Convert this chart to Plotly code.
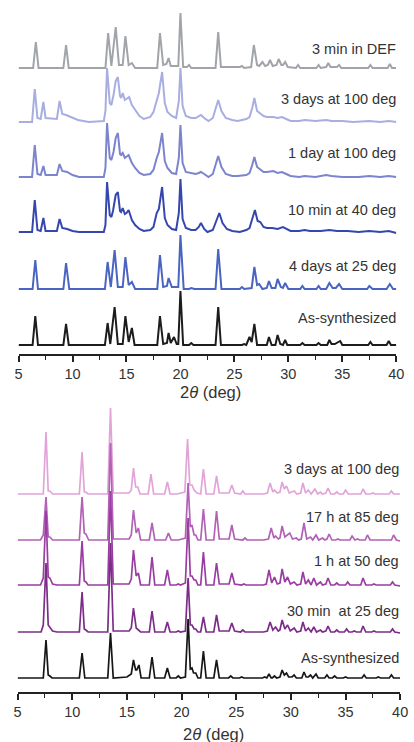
import plotly.graph_objects as go

# ---------------- DATA (2theta, intensity above own baseline) ----------------
top_names = ["As-synthesized", "4 days at 25 deg", "10 min at 40 deg",
             "1 day at 100 deg", "3 days at 100 deg", "3 min in DEF"]

top_as = [(5,1),(6.3,1),(6.55,30),(6.8,1),(9.15,1),(9.4,22),(9.65,1),(13.0,1),(13.25,23),(13.5,2),(13.9,39),(14.2,2),(14.65,2),(14.9,30),(15.2,4),(15.5,18),(15.75,1),(17.85,1),(18.1,30),(18.4,2),(18.75,3),(18.9,13),(19.1,3),(19.4,9),(19.65,2),(19.8,2),(20.0,55),(20.25,1),(20.8,1),(21.0,3),(21.2,1),(23.25,1),(23.5,39),(23.75,1),(25.7,1),(25.9,2),(26.1,1),(26.4,9),(26.6,4),(26.85,22),(27.1,1),(28.0,1),(28.2,9),(28.45,1),(28.8,1),(29.0,11),(29.25,2),(29.5,1),(29.7,6),(29.9,1),(31.1,1),(31.3,3),(31.5,1),(32.6,1),(32.8,3),(33.0,1),(33.6,1),(33.8,6),(34.0,2),(34.3,2),(34.8,5),(35.0,1),(37.4,1),(37.6,4),(37.8,1),(39.1,1),(39.3,5),(39.5,1),(40,1)]

top_4d = [(5,1),(6.3,1),(6.55,30),(6.8,1),(9.15,1),(9.4,27),(9.7,1),(13.0,1),(13.25,28),(13.55,3),(13.9,40),(14.2,3),(14.65,3),(14.9,33),(15.2,5),(15.5,8),(15.8,1),(17.85,1),(18.1,35),(18.4,3),(18.75,4),(18.9,12),(19.2,3),(19.5,3),(19.8,3),(20.0,55),(20.3,1),(20.8,1),(21.0,2),(21.3,1),(23.25,1),(23.5,41),(23.8,1),(25.5,1),(25.7,3),(25.9,1),(26.6,2),(26.85,23),(27.1,5),(27.3,6),(27.6,1),(28.0,2),(28.2,9),(28.45,2),(28.8,2),(29.0,11),(29.3,3),(29.5,2),(29.7,7),(30.0,1),(31.1,1),(31.3,4),(31.5,1),(32.6,1),(32.8,4),(33.0,1),(33.5,1),(33.8,7),(34.1,2),(34.4,2),(34.7,6),(35.0,1),(37.3,1),(37.5,4),(37.8,1),(39.1,1),(39.4,6),(39.7,1),(40,1)]

top_10m = [(5,1),(6.25,1),(6.5,33),(6.75,3),(7.05,2),(7.3,15),(7.5,2),(8.55,2),(8.8,14),(9.05,5),(9.5,4),(10.0,2),(10.6,1),(12.9,1),(13.05,8),(13.2,51),(13.45,18),(13.6,16),(13.75,22),(14.0,38),(14.2,41),(14.4,22),(14.5,21),(14.65,25),(14.85,19),(15.0,20),(15.2,23),(15.5,13),(15.8,8),(16.2,4),(16.6,2),(17.2,3),(17.5,6),(17.8,20),(18.0,24),(18.3,46),(18.55,15),(18.8,8),(19.2,4),(19.6,3),(19.85,20),(20.0,54),(20.2,14),(20.5,5),(21.0,3),(21.4,3),(21.7,6),(21.9,10),(22.2,4),(22.5,1),(23.0,3),(23.3,12),(23.6,20),(23.9,10),(24.3,4),(24.8,2),(25.5,1),(26.1,3),(26.4,5),(26.65,14),(26.9,23),(27.15,12),(27.4,11),(27.7,6),(28.0,5),(28.5,5),(29.0,4),(29.5,6),(29.9,4),(30.2,2),(31.0,2),(31.5,3),(32.0,2),(33.0,2),(33.8,3),(34.5,2),(35.5,2),(36.5,1),(37.5,2),(38.5,1),(39.3,2),(40,0)]

top_1d = [(5,1),(6.25,1),(6.5,33),(6.75,4),(7.05,3),(7.3,12),(7.5,3),(8.55,3),(8.8,14),(9.05,7),(9.5,6),(10.0,3),(10.6,1),(12.9,1),(13.05,10),(13.2,55),(13.45,20),(13.6,18),(13.8,26),(14.0,40),(14.2,45),(14.4,24),(14.5,23),(14.65,25),(14.85,20),(15.0,21),(15.2,23),(15.5,15),(15.8,10),(16.2,5),(16.6,3),(17.2,4),(17.5,8),(17.8,20),(18.0,26),(18.3,45),(18.55,17),(18.8,10),(19.2,5),(19.6,4),(19.85,20),(20.0,53),(20.2,15),(20.5,6),(21.0,5),(21.4,4),(21.7,5),(21.9,6),(22.2,4),(22.6,1),(23.0,4),(23.25,12),(23.5,22),(23.8,11),(24.2,4),(24.8,2),(25.3,2),(26.1,3),(26.4,5),(26.65,13),(26.85,21),(27.1,11),(27.3,9),(27.7,6),(28.0,6),(28.6,7),(29.0,5),(29.4,6),(29.8,4),(30.2,2),(31.0,1),(31.5,2),(32.5,1),(33.5,3),(34.0,2),(35.0,1),(36.5,1),(37.5,2),(38.5,1),(39.3,2),(40,1)]

top_3d = [(5,1),(6.25,1),(6.5,34),(6.75,5),(7.05,4),(7.3,21),(7.5,5),(8.55,4),(8.8,22),(9.05,9),(9.4,8),(10.0,5),(10.5,3),(11.5,1),(12.9,2),(13.05,12),(13.2,55),(13.45,20),(13.6,18),(13.8,28),(14.0,42),(14.2,46),(14.4,27),(14.5,25),(14.65,30),(14.85,23),(15.0,24),(15.25,26),(15.5,18),(15.8,13),(16.2,7),(16.6,4),(17.2,6),(17.5,11),(17.8,23),(18.0,30),(18.3,51),(18.55,20),(18.8,11),(19.2,7),(19.6,5),(19.85,22),(20.0,55),(20.2,17),(20.5,7),(21.0,5),(21.4,5),(21.7,7),(21.9,8),(22.2,5),(22.6,2),(23.0,5),(23.25,14),(23.5,23),(23.8,12),(24.2,5),(24.8,3),(25.3,2),(26.1,4),(26.4,6),(26.65,15),(26.85,25),(27.1,12),(27.3,10),(27.7,7),(28.0,6),(28.6,6),(29.0,5),(29.4,6),(29.8,4),(30.2,2),(31.0,2),(31.5,3),(32.5,2),(33.5,3),(34.0,2),(35.0,2),(36.0,1),(37.5,2),(38.5,1),(39.3,2),(40,1)]

top_def = [(5,0),(6.35,0),(6.6,26),(6.85,0),(9.15,0),(9.4,23),(9.65,0),(13.05,0),(13.3,35),(13.6,2),(14.0,41),(14.3,3),(14.65,3),(14.9,32),(15.2,3),(15.5,5),(15.8,0),(17.85,0),(18.1,35),(18.4,3),(18.7,4),(18.9,10),(19.1,2),(19.8,2),(20.0,55),(20.25,1),(20.6,1),(20.8,3),(21.0,0),(23.25,0),(23.5,36),(23.75,1),(25.5,1),(25.7,2),(25.9,0),(26.55,1),(26.8,23),(27.1,3),(27.3,2),(27.6,6),(27.85,2),(28.1,3),(28.3,8),(28.55,2),(28.9,3),(29.1,9),(29.35,3),(29.5,3),(29.7,6),(29.95,1),(30.7,0),(30.9,3),(31.1,0),(32.6,0),(32.8,3),(33.0,0),(33.5,1),(33.7,5),(33.9,1),(34.5,1),(34.7,3),(34.9,0),(37.4,0),(37.6,3),(37.8,0),(39.2,0),(39.4,4),(39.6,0),(40,0)]

bot_names = ["As-synthesized", "30 min\u00a0 at 25 deg", "1 h at 50 deg",
             "17 h at 85 deg", "3 days at 100 deg"]

bot_as = [(5,1),(7.35,1),(7.6,39),(7.8,4),(7.95,3),(8.15,1),(10.65,1),(10.9,26),(11.15,1),(13.25,1),(13.5,46),(13.75,1),(15.0,2),(15.2,4),(15.4,5),(15.6,19),(15.8,9),(15.9,9),(16.1,14),(16.3,1),(17.05,1),(17.3,22),(17.55,1),(18.45,1),(18.7,11),(18.95,1),(19.5,1),(19.7,3),(19.9,1),(20.35,2),(20.6,60),(20.8,10),(20.95,11),(21.1,6),(21.3,6),(21.5,1),(21.75,1),(22.0,28),(22.25,1),(22.95,1),(23.2,19),(23.45,1),(24.3,1),(24.5,3),(24.7,1),(25.3,1),(25.5,2),(25.7,1),(27.4,1),(27.6,2),(27.8,1),(28.0,5),(28.2,1),(28.3,1),(28.5,3),(28.7,1),(29.0,2),(29.2,9),(29.4,4),(29.6,6),(29.8,2),(30.1,2),(30.3,4),(30.5,1),(31.0,1),(31.2,7),(31.4,2),(31.6,2),(31.8,4),(32.0,1),(32.3,5),(32.5,1),(33.1,1),(33.3,4),(33.5,1),(33.8,1),(34.0,3),(34.2,1),(34.8,1),(35.0,2),(35.2,1),(36.5,1),(36.7,4),(36.9,1),(37.8,1),(38.0,2),(38.2,1),(39.0,1),(39.2,4),(39.4,1),(40,1)]

bot_30m = [(5,1),(7.15,1),(7.35,8),(7.6,70),(7.8,8),(7.95,6),(8.2,2),(8.6,1),(10.65,1),(10.9,41),(11.1,4),(11.25,3),(11.45,1),(13.25,1),(13.5,90),(13.75,2),(15.2,2),(15.4,5),(15.6,25),(15.85,5),(16.05,3),(16.25,1),(17.05,1),(17.3,22),(17.55,1),(18.45,1),(18.7,11),(18.95,1),(19.5,1),(19.7,2),(19.9,1),(20.35,2),(20.6,55),(20.8,8),(20.95,8),(21.15,4),(21.3,4),(21.5,1),(21.75,1),(22.0,16),(22.25,1),(22.95,1),(23.2,18),(23.45,2),(24.35,2),(24.6,10),(24.85,2),(25.4,1),(25.6,3),(25.8,1),(27.5,1),(27.85,2),(28.1,11),(28.35,3),(28.6,6),(28.85,2),(29.0,3),(29.2,13),(29.45,4),(29.7,8),(29.95,2),(30.3,5),(30.55,1),(30.9,2),(31.1,11),(31.35,2),(31.6,5),(31.85,1),(32.1,6),(32.35,1),(32.7,3),(32.9,1),(33.2,2),(33.4,7),(33.65,1),(34.0,1),(34.2,3),(34.4,1),(34.9,1),(35.1,4),(35.3,1),(35.6,1),(35.8,2),(36.0,1),(36.4,1),(36.6,7),(36.85,1),(37.4,1),(37.6,2),(37.8,1),(38.3,1),(38.5,1),(39.1,1),(39.3,4),(39.5,1),(40,0)]

bot_1h = [(5,1),(7.1,1),(7.35,8),(7.6,75),(7.8,9),(7.95,8),(8.2,2),(8.6,1),(10.65,1),(10.9,45),(11.1,5),(11.25,4),(11.45,1),(13.25,1),(13.5,95),(13.75,2),(15.2,2),(15.4,7),(15.6,36),(15.85,10),(16.05,13),(16.25,1),(17.05,1),(17.3,29),(17.55,1),(18.45,1),(18.7,16),(18.95,1),(19.5,1),(19.7,2),(19.9,1),(20.35,3),(20.6,68),(20.8,10),(20.95,10),(21.15,6),(21.3,6),(21.5,1),(21.75,1),(22.0,34),(22.25,1),(22.95,1),(23.2,23),(23.45,2),(24.35,2),(24.6,13),(24.85,2),(25.5,1),(25.7,2),(25.9,1),(27.5,1),(27.75,2),(28.0,16),(28.25,3),(28.5,9),(28.75,2),(29.0,3),(29.2,17),(29.45,4),(29.7,9),(29.95,2),(30.3,4),(30.55,1),(30.9,2),(31.1,14),(31.35,2),(31.6,6),(31.85,1),(32.1,8),(32.35,1),(32.7,4),(32.9,1),(33.2,2),(33.4,8),(33.65,1),(34.0,1),(34.2,3),(34.4,1),(35.0,1),(35.2,4),(35.4,1),(36.4,1),(36.6,8),(36.85,1),(37.4,1),(37.6,2),(37.8,1),(39.1,1),(39.3,4),(39.5,1),(40,0)]

bot_17h = [(5,1),(7.1,1),(7.35,6),(7.6,44),(7.8,4),(7.95,4),(8.2,1),(10.65,1),(10.9,44),(11.1,8),(11.25,7),(11.5,1),(13.25,1),(13.5,98),(13.75,2),(15.2,2),(15.4,6),(15.6,31),(15.85,8),(16.05,13),(16.25,1),(17.05,1),(17.3,18),(17.55,1),(18.55,1),(18.8,8),(19.05,1),(19.5,1),(19.7,1),(20.35,3),(20.6,58),(20.8,14),(20.95,16),(21.15,6),(21.3,6),(21.5,1),(21.75,1),(22.0,32),(22.25,1),(22.95,1),(23.2,30),(23.45,2),(24.35,2),(24.6,16),(24.85,2),(25.6,1),(25.8,3),(26.0,1),(27.5,1),(27.95,2),(28.2,13),(28.45,3),(28.6,5),(28.85,2),(29.0,3),(29.2,15),(29.45,4),(29.9,8),(30.15,2),(30.5,3),(30.7,1),(30.95,2),(31.2,18),(31.45,2),(31.8,4),(32.0,1),(32.3,6),(32.55,1),(32.9,3),(33.1,1),(33.3,2),(33.5,7),(33.75,1),(34.1,1),(34.3,2),(34.5,1),(35.4,1),(35.6,5),(35.85,1),(36.1,2),(36.3,1),(36.8,1),(37.0,6),(37.25,1),(38.0,1),(38.2,1),(39.2,1),(39.4,6),(39.65,1),(40,0)]

bot_3d = [(5,1),(7.35,1),(7.6,63),(7.8,4),(7.95,4),(8.2,1),(10.65,1),(10.9,43),(11.1,3),(11.25,3),(11.45,1),(13.25,1),(13.5,87),(13.75,2),(15.2,2),(15.4,5),(15.6,27),(15.8,8),(16.0,8),(16.2,1),(16.95,1),(17.2,21),(17.45,1),(18.45,1),(18.7,13),(18.95,1),(19.6,1),(20.3,3),(20.55,56),(20.75,10),(20.95,10),(21.15,5),(21.4,2),(21.75,1),(22.0,26),(22.25,1),(22.95,1),(23.2,19),(23.45,2),(24.35,2),(24.6,10),(24.85,2),(25.4,1),(25.6,4),(25.8,1),(27.5,1),(27.85,2),(28.1,12),(28.35,3),(28.5,5),(28.75,2),(29.0,3),(29.2,13),(29.4,6),(29.6,9),(29.85,2),(30.3,4),(30.55,1),(30.9,2),(31.1,12),(31.35,2),(31.6,5),(31.85,1),(32.2,6),(32.45,1),(32.7,3),(32.9,1),(33.2,2),(33.4,7),(33.65,1),(34.0,1),(34.2,3),(34.4,1),(34.8,1),(35.0,5),(35.25,1),(36.4,1),(36.6,6),(36.85,1),(37.3,1),(37.5,2),(37.7,1),(39.0,1),(39.2,4),(39.4,1),(40,1)]

tick_vals = [5, 10, 15, 20, 25, 30, 35, 40]
minor_tick_vals = [7.5, 12.5, 17.5, 22.5, 27.5, 32.5, 37.5]

# ---------------- STYLE / LAYOUT ----------------
top_series = [top_as, top_4d, top_10m, top_1d, top_3d, top_def]
top_offsets = [8, 64, 121, 176, 231, 286]
top_colors = ["#1c1c1c", "#4a64c2", "#3547ae", "#7b84cc", "#a8aee0", "#a1a4a9"]
top_label_y = [36, 88, 144, 201, 255, 305]

bot_series = [bot_as, bot_30m, bot_1h, bot_17h, bot_3d]
bot_offsets = [13, 59, 106, 151, 197]
bot_colors = ["#161616", "#7b2d88", "#9a3da2", "#b261b6", "#e2a4d8"]
bot_label_y = [34, 81, 131, 175, 223]

FONT = "Liberation Sans, Arial, sans-serif"
TXT = "#333333"
fig = go.Figure()

# upper traces first so that the tall peaks of lower traces overlay them
for i in reversed(range(len(top_series))):
    pts = top_series[i]
    fig.add_trace(go.Scatter(x=[p[0] for p in pts], y=[top_offsets[i] + p[1] for p in pts],
                             mode="lines", line=dict(color=top_colors[i], width=2.0),
                             xaxis="x", yaxis="y", showlegend=False, hoverinfo="skip"))
for i in reversed(range(len(bot_series))):
    pts = bot_series[i]
    fig.add_trace(go.Scatter(x=[p[0] for p in pts], y=[bot_offsets[i] + p[1] for p in pts],
                             mode="lines", line=dict(color=bot_colors[i], width=1.7),
                             xaxis="x2", yaxis="y2", showlegend=False, hoverinfo="skip"))

def xax(domain, anchor):
    return dict(domain=domain, anchor=anchor, range=[5, 40], tickvals=tick_vals,
                showline=True, linecolor="#222", linewidth=1.5, ticks="outside",
                ticklen=6, tickwidth=1.5, tickcolor="#222", showgrid=False, zeroline=False,
                minor=dict(tickvals=minor_tick_vals, ticks="outside",
                           ticklen=4, tickwidth=1.2, tickcolor="#222", showgrid=False),
                tickfont=dict(family=FONT, size=14.5, color=TXT), fixedrange=True)

def yax(domain, anchor, rng):
    return dict(domain=domain, anchor=anchor, range=rng, visible=False, fixedrange=True)

anns = []
for name, yv in zip(top_names, top_label_y):
    anns.append(dict(text=name, x=406/414, xref="paper", y=yv, yref="y", xanchor="right",
                     yanchor="middle", showarrow=False, font=dict(family=FONT, size=14.5, color=TXT)))
for name, yv in zip(bot_names, bot_label_y):
    anns.append(dict(text=name, x=409/414, xref="paper", y=yv, yref="y2", xanchor="right",
                     yanchor="middle", showarrow=False, font=dict(family=FONT, size=14.5, color=TXT)))
anns.append(dict(text="2<i>θ</i> (deg)", x=213/414, xref="paper", y=1-392/742, yref="paper",
                 xanchor="center", yanchor="middle", showarrow=False,
                 font=dict(family=FONT, size=16.5, color=TXT)))
anns.append(dict(text="2<i>θ</i> (deg)", x=216/414, xref="paper", y=1-734/742, yref="paper",
                 xanchor="center", yanchor="middle", showarrow=False,
                 font=dict(family=FONT, size=16.5, color=TXT)))

fig.update_layout(
    width=414, height=742, margin=dict(l=0, r=0, t=0, b=0),
    paper_bgcolor="white", plot_bgcolor="white",
    xaxis=xax([15/414, 404/414], "y"),
    yaxis=yax([1-354/742, 1-5/742], "x", [0, 349]),
    xaxis2=xax([14/414, 408/414], "y2"),
    yaxis2=yax([1-692/742, 1-400/742], "x2", [0, 292]),
    annotations=anns,
)

fig.write_html("out.html", config={"displayModeBar": False})
